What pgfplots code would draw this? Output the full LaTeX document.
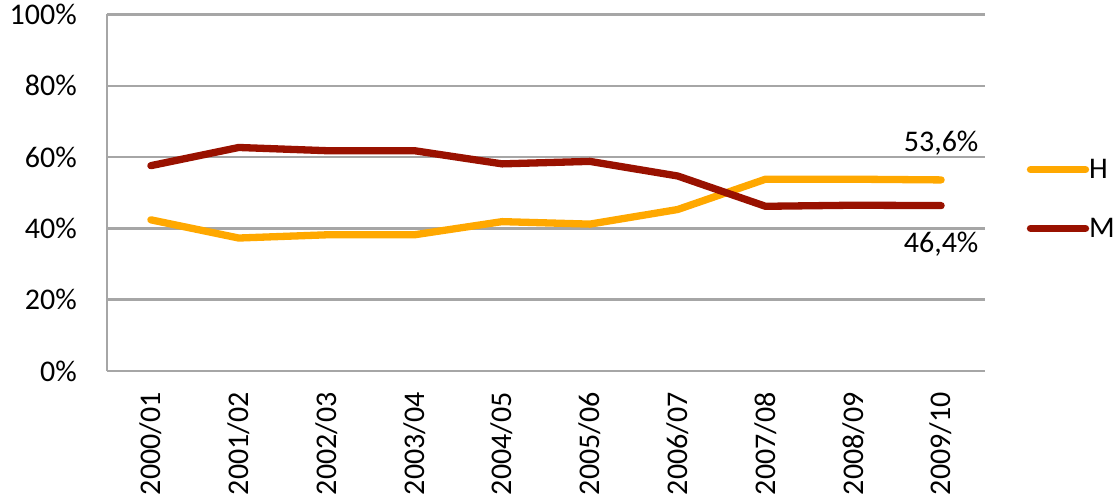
\documentclass[border=0pt]{standalone}
\usepackage{pgfplots}
\pgfplotsset{compat=1.18}
\usepackage{fontspec}
\setmainfont{Carlito}
\definecolor{hcol}{RGB}{255,168,0}
\definecolor{mcol}{RGB}{153,17,0}
\definecolor{gridc}{RGB}{166,166,166}
\begin{document}
\begin{tikzpicture}[x=1pt,y=1pt]
\useasboundingbox (-107,-132) rectangle (1009,371);
\begin{axis}[
  at={(0,0)}, anchor=south west,
  scale only axis, width=878pt, height=356.5pt,
  xmin=-0.5, xmax=9.5, ymin=0, ymax=100,
  axis lines=left,
  axis line style={-, gridc, line width=2.5pt},
  ymajorgrids, grid style={gridc, line width=2.5pt},
  major tick length=0pt,
  ytick={0,20,40,60,80,100},
  yticklabels={0\%,20\%,40\%,60\%,80\%,100\%},
  xtick={0,1,2,3,4,5,6,7,8,9},
  xticklabels={2000/01,2001/02,2002/03,2003/04,2004/05,2005/06,2006/07,2007/08,2008/09,2009/10},
  tick label style={font=\fontsize{30}{36}\selectfont, inner sep=0pt, text=black},
  xticklabel style={rotate=90, anchor=east},
  yticklabel style={anchor=east},
  xticklabel shift=21pt,
  yticklabel shift=30pt,
  clip=false,
  legend style={at={(1.044,0.60)}, anchor=north west, draw=none, fill=none,
    font=\fontsize{30}{36}\selectfont, row sep=38pt,
    nodes={inner sep=0pt}},
  legend cell align=left,
  legend image code/.code={\draw[#1, line cap=round] (0pt,0pt) -- (55pt,0pt);},
]
\addplot[hcol, line width=7.3pt, line cap=round, line join=round] coordinates {
  (0,42.4) (1,37.3) (2,38.2) (3,38.2) (4,41.9) (5,41.2) (6,45.3) (7,53.8) (8,53.8) (9,53.6)};
\addlegendentry{H}
\addplot[mcol, line width=7.3pt, line cap=round, line join=round] coordinates {
  (0,57.6) (1,62.7) (2,61.8) (3,61.8) (4,58.1) (5,58.8) (6,54.7) (7,46.2) (8,46.5) (9,46.4)};
\addlegendentry{M}
\node[anchor=south, inner sep=0pt, yshift=24pt, font=\fontsize{30}{36}\selectfont] at (axis cs:9,53.6) {53,6\%};
\node[anchor=north, inner sep=0pt, yshift=-26pt, font=\fontsize{30}{36}\selectfont] at (axis cs:9,46.4) {46,4\%};
\end{axis}
\end{tikzpicture}
\end{document}
